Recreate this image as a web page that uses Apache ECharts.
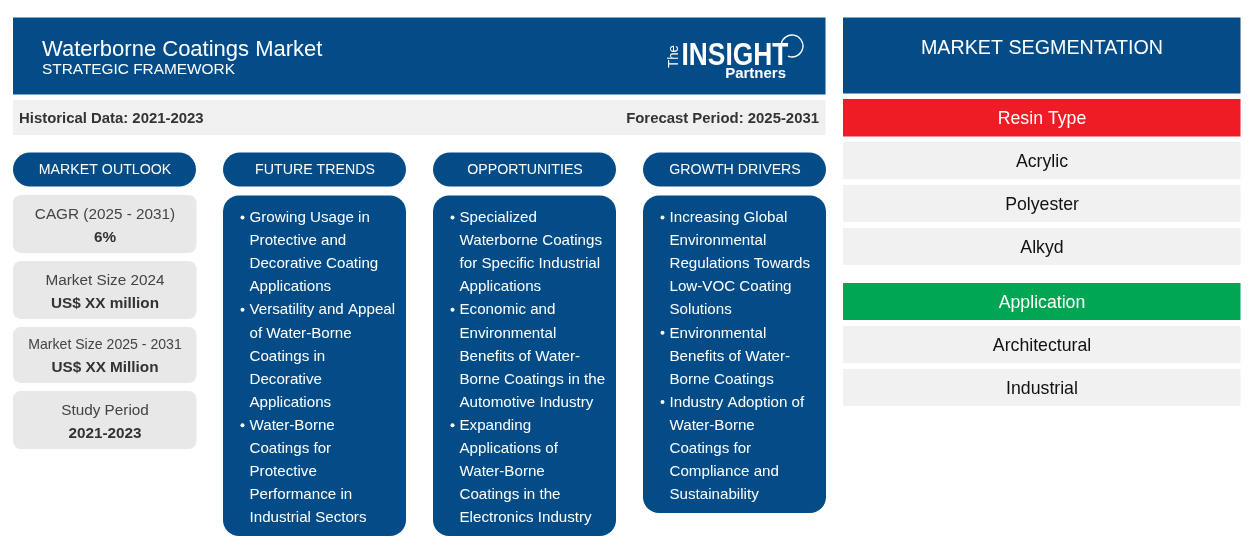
<!DOCTYPE html>
<html lang="en">
<head>
    <meta charset="UTF-8">
    <title>Waterborne Coatings Market</title>
    <script src="https://cdn.jsdelivr.net/npm/echarts@6/dist/echarts.min.js"></script>
    <style>
        html, body { margin: 0; padding: 0; background: #fff; }
        #main { width: 1254px; height: 554px; }
    </style>
</head>
<body>
    <div id="main"></div>
    <script>
        var title = 'Waterborne Coatings Market'
        var subtitle = 'STRATEGIC FRAMEWORK'
        var historical = 'Historical Data: 2021-2023'
        var forecast = 'Forecast Period: 2025-2031'
        var columnHeads = ['MARKET OUTLOOK', 'FUTURE TRENDS', 'OPPORTUNITIES', 'GROWTH DRIVERS']
        var outlook = [
            ['CAGR (2025 - 2031)', '6%'],
            ['Market Size 2024', 'US$ XX million'],
            ['Market Size 2025 - 2031', 'US$ XX Million'],
            ['Study Period', '2021-2023']
        ]
        // first char * marks a new bullet
        var trends = ['*Growing Usage in', 'Protective and', 'Decorative Coating', 'Applications', '*Versatility and Appeal', 'of Water-Borne', 'Coatings in', 'Decorative', 'Applications', '*Water-Borne', 'Coatings for', 'Protective', 'Performance in', 'Industrial Sectors']
        var opportunities = ['*Specialized', 'Waterborne Coatings', 'for Specific Industrial', 'Applications', '*Economic and', 'Environmental', 'Benefits of Water-', 'Borne Coatings in the', 'Automotive Industry', '*Expanding', 'Applications of', 'Water-Borne', 'Coatings in the', 'Electronics Industry']
        var drivers = ['*Increasing Global', 'Environmental', 'Regulations Towards', 'Low-VOC Coating', 'Solutions', '*Environmental', 'Benefits of Water-', 'Borne Coatings', '*Industry Adoption of', 'Water-Borne', 'Coatings for', 'Compliance and', 'Sustainability']
        var segHead = 'MARKET SEGMENTATION'
        var resinTypes = ['Acrylic', 'Polyester', 'Alkyd']
        var applications = ['Architectural', 'Industrial']

        var BLUE = '#034c88', FONT = '"Liberation Sans", Arial, sans-serif'
        var els = []

        function box(x, y, w, h, fill, r) {
            els.push({ type: 'rect', shape: { x: x, y: y, width: w, height: h, r: r || 0 }, style: { fill: fill } })
        }
        function txt(x, y, s, size, color, weight, align) {
            els.push({ type: 'text', x: x, y: y, style: {
                text: s, fill: color, font: (weight || 'normal') + ' ' + size + 'px ' + FONT,
                textAlign: align || 'left', textVerticalAlign: 'middle'
            } })
        }

        // left header
        box(13, 17.5, 812.5, 77, BLUE)
        txt(42, 49.5, title, 22, '#fff')
        txt(42, 69.5, subtitle, 15.4, '#fff')
        // logo
        els.push({ type: 'text', x: 674, y: 56.5, rotation: Math.PI / 2, scaleY: 1.15, style: { text: 'The', fill: '#fff', font: '13px ' + FONT, textAlign: 'center', textVerticalAlign: 'middle' } })
        els.push({ type: 'text', x: 681.5, y: 56.5, scaleX: 0.85, style: { text: 'INSIGHT', fill: '#fff', font: 'bold 31px ' + FONT, textAlign: 'left', textVerticalAlign: 'middle' } })
        txt(786, 73.5, 'Partners', 15, '#fff', 'bold', 'right')
        els.push({ type: 'arc', shape: { cx: 792, cy: 46, r: 11, startAngle: -Math.PI * 0.95, endAngle: Math.PI * 0.62 }, style: { stroke: '#fff', lineWidth: 1.3, fill: 'none' } })

        // period bar
        box(13, 100, 812.5, 35, '#f0f0f0')
        txt(19, 118.5, historical, 14.9, '#333', 'bold')
        txt(819, 118.5, forecast, 14.9, '#333', 'bold', 'right')

        // column pills
        var colX = [13, 223, 433, 643]
        columnHeads.forEach(function (h, i) {
            box(colX[i], 152.5, 183, 34, BLUE, 17)
            txt(colX[i] + 92, 170.5, h, 14.2, '#fff', 'normal', 'center')
        })

        // outlook cards
        var cardY = [195, 261, 327, 391], cardH = [58, 58, 56, 58]
        outlook.forEach(function (c, i) {
            box(13, cardY[i], 183.5, cardH[i], '#e8e8e8', 8)
            var small = i === 2
            txt(105, cardY[i] + (small ? 18.5 : 19.5), c[0], small ? 14.1 : 15.3, '#444', 'normal', 'center')
            txt(105, cardY[i] + (small ? 40.5 : 42.5), c[1], 15.3, '#333', 'bold', 'center')
        })

        // bullet columns
        function bullets(x, h, lines) {
            box(x, 195.5, 183, h, BLUE, 16)
            lines.forEach(function (l, i) {
                var y = 218 + i * 23.07
                var isNew = l.charAt(0) === '*'
                if (isNew) {
                    els.push({ type: 'circle', shape: { cx: x + 19.5, cy: y - 0.5, r: 2 }, style: { fill: '#fff' } })
                    l = l.slice(1)
                }
                txt(x + 26.5, y, l, 15.15, '#fff')
            })
        }
        bullets(223, 340.5, trends)
        bullets(433, 340.5, opportunities)
        bullets(643, 317.5, drivers)

        // segmentation side
        box(843, 17.5, 397.5, 76, BLUE)
        txt(1042, 48.5, segHead, 19.7, '#fff', 'normal', 'center')
        box(843, 99, 397.5, 37.5, '#ef1c25')
        txt(1042, 119, 'Resin Type', 17.7, '#fff', 'normal', 'center')
        var resinY = [142, 185, 228]
        resinTypes.forEach(function (r, i) {
            box(843, resinY[i], 397.5, 37, '#f1f1f1')
            txt(1042, resinY[i] + 20, r, 17.7, '#111', 'normal', 'center')
        })
        box(843, 283, 397.5, 37, '#00a651')
        txt(1042, 303, 'Application', 17.7, '#fff', 'normal', 'center')
        var appY = [326, 369]
        applications.forEach(function (r, i) {
            box(843, appY[i], 397.5, 37, '#f1f1f1')
            txt(1042, appY[i] + 20, r, 17.7, '#111', 'normal', 'center')
        })

        var myChart = echarts.init(document.getElementById('main'), null, { renderer: 'canvas' })
        myChart.setOption({ animation: false, backgroundColor: '#fff', graphic: { elements: els } })
    </script>
</body>
</html>
